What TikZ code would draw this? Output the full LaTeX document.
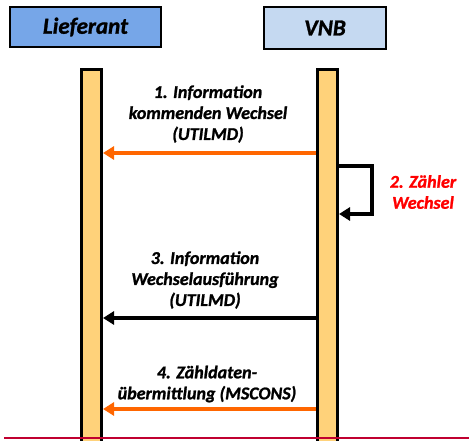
\documentclass[tikz,border=0pt]{standalone}
\usepackage{fontspec}
\setmainfont{Carlito}
\newfontfamily\heavyfont[FakeBold=1.2]{Carlito}
\usetikzlibrary{arrows.meta}
\definecolor{liefblue}{RGB}{118,166,232}
\definecolor{vnbblue}{RGB}{197,217,241}
\definecolor{barorange}{RGB}{255,210,122}
\definecolor{msgorange}{RGB}{255,102,0}
\definecolor{linered}{RGB}{192,0,48}
\begin{document}
\begin{tikzpicture}[x=1pt,y=-1pt]
	% sizes
	\def\barw{20pt}
	\def\barh{390pt}
	\def\tip{{Triangle[length=11pt,width=13pt]}}
	% styles
	\tikzstyle{actor} = [draw, line width=2pt, rectangle, font=\fontsize{23}{27}\selectfont\heavyfont\bfseries\itshape];
	\tikzstyle{lifeline} = [draw, line width=3pt, fill=barorange, rectangle, minimum width=\barw, minimum height=\barh, anchor=north];
	\tikzstyle{msg} = [line width=3.6pt, -\tip];
	\tikzstyle{msgtext} = [align=center, font=\fontsize{18}{21}\selectfont\heavyfont\bfseries\itshape];
	\useasboundingbox (0,0) rectangle (469,441);
	% actors
	\node[actor, fill=liefblue, minimum width=151pt, minimum height=40pt] (lief) at (85.5,27) { Lieferant };
	\node[actor, fill=vnbblue, minimum width=122pt, minimum height=42pt] (vnb) at (325,28) { VNB };
	% lifelines
	\node[lifeline] (liefbar) at (91.5,68.5) {};
	\node[lifeline] (vnbbar) at (327.5,68.5) {};
	% message heights
	\coordinate (m1) at (0,153);
	\coordinate (m2a) at (0,166);
	\coordinate (m2b) at (0,214);
	\coordinate (m3) at (0,318);
	\coordinate (m4) at (0,409);
	% messages
	\draw[msg, msgorange] (vnbbar.west |- m1) -- (liefbar.east |- m1);
	\draw[msg] (vnbbar.east |- m2a) -| (372,190) |- (vnbbar.east |- m2b);
	\draw[msg] (vnbbar.west |- m3) -- (liefbar.east |- m3);
	\draw[msg, msgorange] (vnbbar.west |- m4) -- (liefbar.east |- m4);
	% labels
	\node[msgtext] (t1) at (208,114) { 1. Information\\kommenden Wechsel\\(UTILMD) };
	\node[msgtext, text=red] (t2) at (423,192) { 2. Zähler\\Wechsel };
	\node[msgtext] (t3) at (205,280) { 3. Information\\Wechselausführung\\(UTILMD) };
	\node[msgtext] (t4) at (207,384) { 4. Zähldaten-\\übermittlung (MSCONS) };
	% bottom rule
	\draw[linered, line width=2pt] (4,438) -- (469,438);
\end{tikzpicture}
\end{document}
